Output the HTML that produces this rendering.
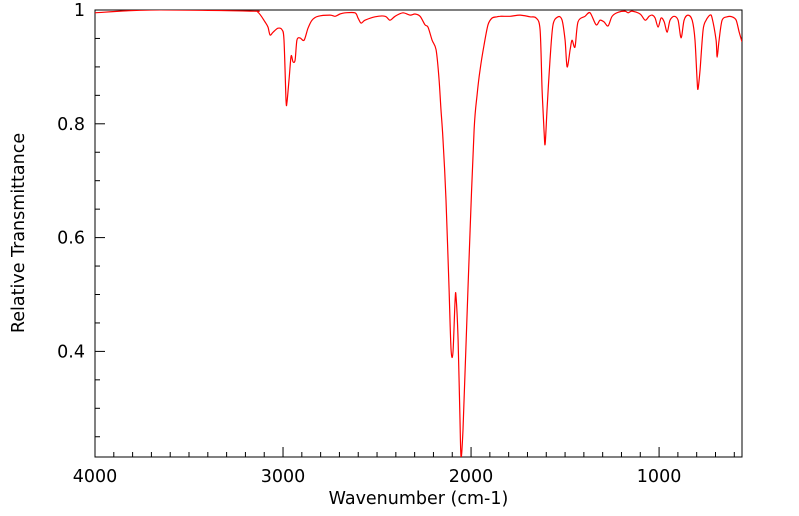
<!DOCTYPE html>
<html><head><meta charset="utf-8"><style>
body{margin:0;background:#fff;}
svg{display:block;font-family:"DejaVu Sans","Liberation Sans",sans-serif;}
</style></head><body>
<svg id="chart" width="799" height="516" viewBox="0 0 799 516"></svg>
<script>
const wavenumbers=[4000,3707,3176,3133,3096,3080,3069,3053,3027,3005,2995,2984,2979,2968,2957,2947,2936,2926,2910,2888,2867,2846,2814,2750,2723,2697,2670,2617,2601,2585,2564,2511,2457,2431,2404,2362,2324,2298,2271,2245,2229,2207,2186,2170,2160,2149,2133,2117,2106,2096,2085,2080,2069,2059,2053,2043,2027,2005,1984,1968,1952,1931,1910,1888,1862,1846,1793,1739,1686,1654,1633,1622,1612,1606,1596,1580,1564,1537,1516,1500,1489,1473,1463,1447,1431,1394,1367,1335,1314,1293,1271,1250,1218,1181,1165,1144,1101,1074,1053,1037,1021,1005,989,973,957,942,920,899,883,867,846,824,809,798,793,782,766,750,729,718,697,691,681,665,638,612,590,574,559];
const transmittance=[.995,1.0,.998,.996,.979,.970,.956,.961,.968,.965,.947,.842,.838,.877,.919,.909,.912,.947,.951,.947,.968,.982,.989,.991,.989,.993,.995,.995,.986,.977,.982,.988,.989,.982,.989,.995,.991,.993,.989,.974,.970,.947,.930,.877,.824,.772,.666,.508,.402,.399,.490,.497,.420,.279,.214,.262,.411,.613,.789,.851,.895,.938,.974,.986,.988,.989,.989,.991,.988,.986,.965,.859,.789,.764,.824,.912,.974,.988,.982,.947,.900,.930,.947,.935,.979,.989,.995,.974,.982,.979,.972,.989,.996,.998,.995,.998,.993,.982,.989,.991,.986,.970,.986,.979,.961,.982,.989,.982,.951,.982,.991,.982,.947,.877,.861,.895,.965,.982,.991,.986,.947,.917,.947,.982,.988,.988,.982,.961,.944];
const xMajorTicks=[4000,3000,2000,1000];
const yMajorTicks=[0.4,0.6,0.8,1];
const yTickLabels=["0.4","0.6","0.8","1"];

const NS="http://www.w3.org/2000/svg";
const svg=document.getElementById('chart');
const L=95,R=742,T=10,B=457;
const xMin=559,xMax=4000,yMin=0.2144,yMax=1;
const xs=v=>L+(xMax-v)/(xMax-xMin)*(R-L);
const ys=v=>B-(v-yMin)/(yMax-yMin)*(B-T);
function mk(tag,attrs,parent){const e=document.createElementNS(NS,tag);for(const k in attrs)e.setAttribute(k,attrs[k]);(parent||svg).appendChild(e);return e;}

const defs=mk('defs',{});
const cp=mk('clipPath',{id:'clip'},defs);
mk('rect',{x:L,y:T,width:R-L,height:B-T},cp);

const frame=mk('rect',{x:L,y:T,width:R-L,height:B-T,fill:'none',stroke:'#000','stroke-width':1});



const xt=mk('g',{});


for(let v=4000;v>=xMin;v-=100){
  const x=xs(v);const major=v%1000===0;
  mk('line',{x1:x,x2:x,y1:B,y2:B-(major?10:5),stroke:'#000','stroke-width':1},xt);
}
xMajorTicks.forEach(v=>{
  const t=mk('text',{x:xs(v),y:B+25,'text-anchor':'middle','font-size':17.5},xt);
  
  
  t.textContent=String(v);
});
const yt=mk('g',{});


for(let i=5;i<=20;i++){
  const v=i*0.05;if(v<yMin)continue;
  const y=ys(v);const major=i%4===0;
  mk('line',{x1:L,x2:L+(major?10:5),y1:y,y2:y,stroke:'#000','stroke-width':1},yt);
}
yMajorTicks.forEach((v,i)=>{
  const t=mk('text',{x:L-10,y:ys(v)+6,'text-anchor':'end','font-size':17.5},yt);
  
  
  t.textContent=yTickLabels[i];
});
const xl=mk('text',{x:(L+R)/2,y:504,'text-anchor':'middle','font-size':17.5});


xl.textContent='Wavenumber (cm-1)';
const yl=mk('text',{x:0,y:0,'text-anchor':'middle','font-size':17.5,transform:'translate(24,233) rotate(-90)'});


yl.textContent='Relative Transmittance';

const pts=wavenumbers.map((w,i)=>[xs(w),ys(transmittance[i])]);
let d='M'+pts[0][0].toFixed(1)+','+pts[0][1].toFixed(1);
const k=0.15;
for(let i=0;i<pts.length-1;i++){
  const p0=pts[Math.max(0,i-1)],p1=pts[i],p2=pts[i+1],p3=pts[Math.min(pts.length-1,i+2)];
  const c1=[p1[0]+(p2[0]-p0[0])*k,p1[1]+(p2[1]-p0[1])*k];
  const c2=[p2[0]-(p3[0]-p1[0])*k,p2[1]-(p3[1]-p1[1])*k];
  d+='C'+c1[0].toFixed(1)+','+c1[1].toFixed(1)+' '+c2[0].toFixed(1)+','+c2[1].toFixed(1)+' '+p2[0].toFixed(1)+','+p2[1].toFixed(1);
}
const line=mk('path',{d:d,fill:'none',stroke:'#ff0000','stroke-width':1.2,'stroke-linejoin':'round','clip-path':'url(#clip)'});


</script>
</body></html>
